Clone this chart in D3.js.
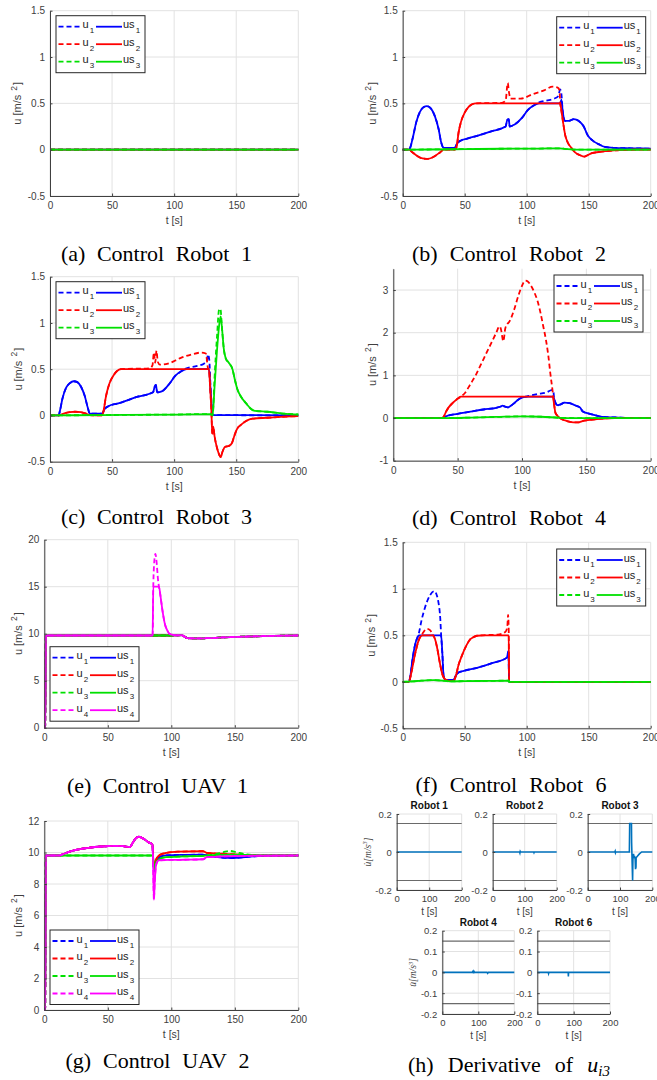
<!DOCTYPE html>
<html>
<head>
<meta charset="utf-8">
<script src="https://cdn.jsdelivr.net/npm/d3@7"></script>
<style>
  body { margin: 0; background: #fff; }
  svg { display: block; }
</style>
</head>
<body>
<svg id="fig" width="657" height="1080"></svg>
<script>
// ---- data (t [s], value) ----
const tTicks = [0, 50, 100, 150, 200];
const yTicksRobot = [-0.5, 0, 0.5, 1, 1.5];
const yTicksR4 = [-1, 0, 1, 2, 3];
const yTicksUav1 = [0, 5, 10, 15, 20];
const yTicksUav2 = [0, 2, 4, 6, 8, 10, 12];

// Robot 1
const r1_u = [[0,0],[200,0]];

// Robot 2
const r2_us1 = [[0,0],[5,0],[6,0.02],[8,0.12],[11,0.3],[14,0.41],[17,0.46],[19.5,0.47],[23,0.44],[26,0.36],[29,0.22],[31,0.08],[33,0.02],[42,0.02],[44,0.07],[47,0.1],[52,0.12],[60,0.15],[72,0.2],[83,0.25],[84.3,0.32],[85.5,0.33],[86.3,0.25],[90,0.27],[96,0.34],[101,0.43],[106,0.48],[110,0.5],[127,0.5],[128,0.54],[129,0.42],[131,0.31],[134,0.31],[138,0.33],[142,0.31],[146,0.25],[149,0.16],[153,0.1],[158,0.06],[163,0.03],[170,0.02],[185,0.015],[200,0.01]];
const r2_u1 = [[0,0],[5,0],[6,0.02],[8,0.12],[11,0.3],[14,0.41],[17,0.46],[19.5,0.47],[23,0.44],[26,0.36],[29,0.22],[31,0.08],[33,0.02],[42,0.02],[44,0.07],[47,0.1],[52,0.12],[60,0.15],[72,0.2],[83,0.25],[84.3,0.32],[85.5,0.33],[86.3,0.25],[90,0.27],[96,0.34],[101,0.43],[106,0.48],[110,0.51],[116,0.53],[122,0.55],[125.5,0.58],[127,0.65],[128,0.6],[129,0.42],[131,0.31],[134,0.31],[138,0.33],[142,0.31],[146,0.25],[149,0.16],[153,0.1],[158,0.06],[163,0.03],[170,0.02],[185,0.015],[200,0.01]];
const r2_us2 = [[0,0],[5,0],[8,-0.03],[12,-0.07],[16,-0.095],[19.5,-0.1],[23,-0.09],[27,-0.06],[30,-0.03],[33,0],[42,0],[43.5,0.03],[45,0.18],[47,0.3],[50,0.4],[53,0.46],[56,0.49],[59,0.5],[127,0.5],[128,0.42],[129.5,0.28],[131,0.16],[133,0.08],[136,0.02],[139,-0.03],[143,-0.06],[146.5,-0.075],[149,-0.06],[152,-0.04],[158,-0.025],[165,-0.015],[175,-0.005],[190,0],[200,0]];
const r2_u2 = [[0,0],[5,0],[8,-0.03],[12,-0.07],[16,-0.095],[19.5,-0.1],[23,-0.09],[27,-0.06],[30,-0.03],[33,0],[42,0],[43.5,0.03],[45,0.18],[47,0.3],[50,0.4],[53,0.46],[56,0.49],[59,0.5],[80,0.505],[83,0.53],[84.7,0.72],[85.7,0.62],[87,0.55],[95,0.55],[105,0.6],[114,0.64],[121,0.68],[125,0.67],[126.5,0.64],[127,0.5],[128,0.42],[129.5,0.28],[131,0.16],[133,0.08],[136,0.02],[139,-0.03],[143,-0.06],[146.5,-0.075],[149,-0.06],[152,-0.04],[158,-0.025],[165,-0.015],[175,-0.005],[190,0],[200,0]];
const r2_us3 = [[0,0],[20,0.002],[50,0.006],[80,0.01],[110,0.012],[127,0.015],[133,0.005],[140,0],[200,0]];

// Robot 3
const r3_us1 = [[0,0],[7,0],[8,0.05],[10,0.18],[13,0.3],[16,0.35],[19,0.37],[22,0.36],[25,0.31],[28,0.21],[30.5,0.08],[32,0.02],[42,0.02],[44,0.07],[47,0.1],[55,0.13],[70,0.2],[83,0.25],[84.3,0.31],[85.3,0.33],[86.3,0.25],[90,0.26],[96,0.34],[101,0.43],[106,0.48],[110,0.5],[128,0.5],[129.5,0.25],[131,0.005],[200,0]];
const r3_u1 = [[0,0],[7,0],[8,0.05],[10,0.18],[13,0.3],[16,0.35],[19,0.37],[22,0.36],[25,0.31],[28,0.21],[30.5,0.08],[32,0.02],[42,0.02],[44,0.07],[47,0.1],[55,0.13],[70,0.2],[83,0.25],[84.3,0.31],[85.3,0.33],[86.3,0.25],[90,0.26],[96,0.34],[101,0.43],[106,0.48],[110,0.51],[117,0.53],[124,0.56],[126.5,0.6],[127.3,0.66],[128.3,0.6],[129.5,0.25],[131,0.005],[200,0]];
const r3_us2 = [[0,0],[7,0],[11,0.02],[16,0.035],[20,0.04],[25,0.035],[29,0.02],[32,0.005],[42,0],[43,0.04],[45,0.2],[48,0.35],[51,0.43],[54,0.48],[57,0.5],[128,0.5],[129,0.3],[130,0.05],[130.7,-0.2],[131.5,-0.12],[132.5,-0.22],[134.5,-0.35],[136.5,-0.43],[137.5,-0.45],[139,-0.39],[141,-0.34],[144,-0.33],[146.5,-0.3],[148.5,-0.22],[150.5,-0.15],[154,-0.1],[158,-0.06],[163,-0.035],[175,-0.025],[190,-0.012],[200,-0.008]];
const r3_u2 = [[0,0],[7,0],[11,0.02],[16,0.035],[20,0.04],[25,0.035],[29,0.02],[32,0.005],[42,0],[43,0.04],[45,0.2],[48,0.35],[51,0.43],[54,0.48],[57,0.5],[80,0.51],[82.5,0.54],[83.7,0.68],[84.7,0.57],[85.8,0.7],[86.8,0.58],[88.5,0.55],[95,0.56],[105,0.62],[114,0.66],[122,0.68],[125.5,0.67],[127.5,0.5],[128,0.5],[129,0.3],[130,0.05],[130.7,-0.2],[131.5,-0.12],[132.5,-0.22],[134.5,-0.35],[136.5,-0.43],[137.5,-0.45],[139,-0.39],[141,-0.34],[144,-0.33],[146.5,-0.3],[148.5,-0.22],[150.5,-0.15],[154,-0.1],[158,-0.06],[163,-0.035],[175,-0.025],[190,-0.012],[200,-0.008]];
const r3_us3 = [[0,0],[40,0.004],[100,0.01],[129.5,0.015],[131,0],[132.5,0.3],[134.5,0.7],[136.5,1.0],[137.5,1.07],[138.5,0.95],[140,0.72],[141.5,0.62],[144,0.57],[147,0.5],[149,0.38],[151,0.28],[154,0.2],[158,0.13],[162,0.07],[165,0.05],[175,0.04],[188,0.02],[200,0.01]];
const r3_u3 = [[0,0],[40,0.004],[100,0.01],[129.5,0.015],[131,0],[132.5,0.4],[134.5,0.85],[136.3,1.15],[137.3,1.15],[138.5,0.95],[140,0.72],[141.5,0.62],[144,0.57],[147,0.5],[149,0.38],[151,0.28],[154,0.2],[158,0.13],[162,0.07],[165,0.05],[175,0.04],[188,0.02],[200,0.01]];

// Robot 4
const r4_us1 = [[0,0],[38,0],[40,0.03],[50,0.1],[60,0.15],[70,0.2],[80,0.24],[83.5,0.27],[85,0.29],[86.5,0.27],[89,0.25],[91,0.28],[94,0.35],[97,0.43],[100,0.48],[104,0.5],[124,0.5],[125,0.45],[126.5,0.33],[128,0.3],[130,0.32],[133,0.36],[137,0.35],[141,0.3],[145,0.25],[147,0.16],[150,0.12],[155,0.08],[160,0.04],[166,0.02],[175,0.01],[190,0],[200,0]];
const r4_u1 = [[0,0],[38,0],[40,0.03],[50,0.1],[60,0.15],[70,0.2],[80,0.24],[83.5,0.27],[85,0.29],[86.5,0.27],[89,0.25],[91,0.28],[94,0.35],[97,0.43],[100,0.48],[104,0.51],[112,0.56],[119,0.6],[123.5,0.66],[124.5,0.6],[125,0.45],[126.5,0.33],[128,0.3],[130,0.32],[133,0.36],[137,0.35],[141,0.3],[145,0.25],[147,0.16],[150,0.12],[155,0.08],[160,0.04],[166,0.02],[175,0.01],[190,0],[200,0]];
const r4_us2 = [[0,0],[38,0],[39.5,0.05],[41,0.15],[43,0.25],[46,0.35],[49,0.43],[52.5,0.5],[124,0.5],[125,0.3],[126,0.12],[128,0.04],[131,-0.03],[135,-0.07],[140,-0.1],[144,-0.1],[147,-0.07],[151,-0.05],[160,-0.02],[172,0],[200,0]];
const r4_u2 = [[0,0],[38,0],[39.5,0.05],[41,0.15],[43,0.25],[46,0.35],[49,0.43],[52.5,0.5],[56,0.6],[60,0.8],[64,1.0],[68,1.25],[72,1.5],[76,1.75],[80,2.0],[82.5,2.15],[83.5,2.1],[85.5,1.8],[87,2.1],[88.5,2.2],[90,2.25],[94,2.55],[97,2.85],[100,3.1],[102.5,3.22],[104.5,3.2],[107,3.1],[109.5,2.95],[112,2.75],[114.5,2.45],[116.5,2.15],[118.5,1.85],[120.5,1.45],[122,1.05],[123.5,0.7],[124.5,0.45],[125.5,0.2],[126,0.12],[128,0.04],[131,-0.03],[135,-0.07],[140,-0.1],[144,-0.1],[147,-0.07],[151,-0.05],[160,-0.02],[172,0],[200,0]];
const r4_us3 = [[0,0],[40,0],[60,0.01],[80,0.025],[100,0.04],[115,0.03],[130,0.005],[140,0],[200,0]];

// UAV 1
const uav1_base = [[0,0],[0.7,0],[1.2,9.81],[99,9.81],[104,9.83],[108,9.84],[110,9.72],[113,9.52],[120,9.5],[128,9.52],[140,9.6],[160,9.7],[180,9.77],[200,9.81]];
const uav1_us4 = [[0,0],[0.7,0],[1.2,9.81],[85.3,9.81],[85.8,15],[90.3,15],[91.5,14],[93,12.5],[95,11],[97,10.3],[99,9.95],[104,9.83],[108,9.84],[110,9.72],[113,9.52],[120,9.5],[128,9.52],[140,9.6],[160,9.7],[180,9.77],[200,9.81]];
const uav1_u4 = [[0,0],[0.7,0],[1.2,9.81],[85.3,9.81],[85.8,15],[86.8,18],[87.5,18.5],[88.5,17.5],[89.5,15.8],[90.3,15],[91.5,14],[93,12.5],[95,11],[97,10.3],[99,9.95],[104,9.83],[108,9.84],[110,9.72],[113,9.52],[120,9.5],[128,9.52],[140,9.6],[160,9.7],[180,9.77],[200,9.81]];

// UAV 2
const uav2_us4 = [[0,0],[0.7,0],[1.2,9.81],[12,9.81],[15,9.9],[20,10.05],[25,10.17],[35,10.3],[45,10.38],[55,10.42],[62,10.4],[67.5,10.35],[69.5,10.6],[72,10.9],[74.5,11.0],[78,10.88],[82,10.65],[85.2,10.5],[85.7,9.2],[86.3,7.0],[86.9,8.0],[88,9.2],[90,9.5],[100,9.53],[110,9.54],[125,9.57],[128,9.7],[140,9.75],[160,9.79],[200,9.81]];
const uav2_us3 = [[0,0],[0.7,0],[1.2,9.81],[85.5,9.81],[86.5,8.95],[88,9.35],[91,9.6],[96,9.7],[110,9.75],[125,9.79],[135,9.84],[150,9.86],[165,9.83],[200,9.81]];
const uav2_u3 = [[0,0],[0.7,0],[1.2,9.81],[85.5,9.81],[86.5,8.95],[88,9.35],[91,9.6],[96,9.7],[110,9.75],[125,9.79],[135,9.9],[141,10.02],[146,10.1],[151,10.02],[158,9.9],[168,9.82],[200,9.81]];
const uav2_us2 = [[0,0],[0.7,0],[1.2,9.81],[12,9.81],[15,9.9],[20,10.05],[25,10.17],[35,10.3],[45,10.38],[55,10.42],[62,10.4],[67.5,10.35],[69.5,10.6],[72,10.9],[74.5,11.0],[78,10.88],[82,10.65],[85.2,10.5],[85.7,9.6],[86.5,9.15],[88,9.55],[91,9.85],[96,9.97],[105,10.05],[125,10.08],[128,9.97],[140,9.92],[155,9.86],[170,9.82],[200,9.81]];
const uav2_us1 = [[0,0],[0.7,0],[1.2,9.81],[12,9.81],[15,9.9],[20,10.05],[25,10.17],[35,10.3],[45,10.38],[55,10.42],[62,10.4],[67.5,10.35],[69.5,10.6],[72,10.9],[74.5,11.0],[78,10.88],[82,10.65],[85.2,10.5],[85.7,9.5],[86.5,8.8],[88,9.45],[91,9.72],[96,9.82],[110,9.85],[125,9.86],[130,9.78],[140,9.68],[148,9.65],[160,9.72],[175,9.8],[200,9.81]];

// Robot 6
const r6_us1 = [[0,0],[5,0],[6,0.05],[8,0.25],[10,0.4],[12,0.48],[13,0.5],[31,0.5],[32,0.3],[33,0.06],[34.5,0.02],[41,0.02],[43,0.07],[45,0.1],[50,0.12],[60,0.15],[72,0.2],[84,0.26],[85.3,0.33],[85.8,0],[200,0]];
const r6_u1 = [[0,0],[5,0],[6,0.05],[8,0.25],[10,0.4],[12,0.48],[13,0.52],[15,0.65],[18,0.8],[22,0.93],[25.5,0.975],[27.5,0.93],[29,0.84],[30.3,0.68],[31,0.5],[32,0.3],[33,0.06],[34.5,0.02],[41,0.02],[43,0.07],[45,0.1],[50,0.12],[60,0.15],[72,0.2],[84,0.26],[85.3,0.33],[85.8,0],[200,0]];
const r6_us2 = [[0,0],[5,0],[7,0.1],[10,0.3],[13,0.45],[16,0.5],[24.5,0.5],[26.5,0.44],[28,0.35],[30,0.2],[32,0.08],[34,0.03],[37,0.01],[41,0.01],[43,0.07],[45,0.18],[48,0.29],[51,0.38],[54,0.45],[57,0.48],[60,0.495],[65,0.5],[85.5,0.5],[85.8,0],[200,0]];
const r6_u2 = [[0,0],[5,0],[7,0.1],[10,0.3],[13,0.45],[16,0.52],[19.5,0.57],[22,0.555],[24.5,0.5],[26.5,0.44],[28,0.35],[30,0.2],[32,0.08],[34,0.03],[37,0.01],[41,0.01],[43,0.07],[45,0.18],[48,0.29],[51,0.38],[54,0.45],[57,0.48],[60,0.495],[65,0.5],[78,0.51],[83,0.54],[84.4,0.6],[85,0.72],[85.5,0.55],[85.8,0],[200,0]];
const r6_us3 = [[0,0],[8,0.005],[15,0.012],[25,0.018],[32,0.012],[38,0.005],[50,0.007],[70,0.01],[85.5,0.012],[85.8,0],[200,0]];

// Derivative of u_i3
const hTicksTop = [-0.2, 0, 0.2];
const hTicksBottom = [-0.2, -0.1, 0, 0.1, 0.2];
const hLimits = [-0.15, 0.15];
const hXTicks = [0, 100, 200];
const h_r1 = [[0,0],[200,0]];
const h_r2 = [[0,0],[84,0],[85,-0.005],[86,0.003],[87,0],[128,0],[129,-0.004],[130,0],[200,0]];
const h_r3 = [[0,0],[84,0],[85,0.004],[86,-0.004],[87,0],[129,0],[130,0.15],[135.5,0.15],[136,0.05],[139,-0.15],[140,-0.04],[142,-0.01],[143,-0.03],[145,-0.02],[147,-0.04],[148,-0.09],[149.5,-0.08],[150,-0.03],[155,-0.02],[160,-0.01],[167,0],[200,0]];
const h_r4 = [[0,0],[84,0],[85,0.008],[87,-0.005],[88,0.005],[90,0],[124,0],[126,-0.005],[128,0],[200,0]];
const h_r6 = [[0,0],[30,0],[31,-0.006],[32,0],[85,0],[85.5,-0.02],[86,0],[200,0]];

// ---- drawing ----
const svg = d3.select("#fig");
const colors = ["#0000ff", "#ff0000", "#00e000", "#ff00ff"];
const axisCol = "#404040";
const gridCol = "#e2e2e2";
const sans = "Liberation Sans, Arial, sans-serif";
const serif = "Liberation Serif, Times New Roman, serif";

function frame(g, x, y, xt, yt) {
  const [x0, x1] = x.range();
  const [y1, y0] = y.range();
  g.append("g").selectAll("line").data(yt).join("line")
    .attr("x1", x0).attr("x2", x1).attr("y1", d => y(d)).attr("y2", d => y(d))
    .attr("stroke", gridCol).attr("stroke-width", 1);
  g.append("g").selectAll("line").data(xt).join("line")
    .attr("x1", d => x(d)).attr("x2", d => x(d)).attr("y1", y0).attr("y2", y1)
    .attr("stroke", gridCol).attr("stroke-width", 1);
}

function axes(g, x, y, xt, yt, fs) {
  const [y1] = y.range();
  const [x0] = x.range();
  const ax = g.append("g").attr("transform", `translate(${x0},0)`)
    .call(d3.axisLeft(y).tickValues(yt).tickFormat(d => String(d)).tickSize(-2.5).tickSizeOuter(0).tickPadding(5));
  const bx = g.append("g").attr("transform", `translate(0,${y1})`)
    .call(d3.axisBottom(x).tickValues(xt).tickFormat(d => String(d)).tickSize(-2.5).tickSizeOuter(0).tickPadding(fs + 1));
  [ax, bx].forEach(a => {
    a.attr("font-family", sans).attr("font-size", fs);
    a.selectAll("path, line").attr("stroke", axisCol).attr("stroke-width", 1);
    a.selectAll("text").attr("fill", axisCol);
  });
  bx.selectAll("text").attr("dy", "0.2em");
}

// caption: Times-like text whose word gaps are widened to the measured width
function caption(sel, width) {
  const natural = sel.node().getComputedTextLength();
  const gaps = (sel.text().match(/ /g) || []).length;
  if (gaps) sel.attr("word-spacing", Math.max(0, (width - natural) / gaps));
}

function drawPanel(p) {
  const [x0, y0, x1, y1] = p.box;
  const g = svg.append("g");
  const x = d3.scaleLinear().domain([0, 200]).range([x0, x1]);
  const y = d3.scaleLinear().domain(p.yDom).range([y1, y0]);
  frame(g, x, y, tTicks, p.yTicks);

  const line = d3.line().x(d => x(d[0])).y(d => y(d[1])).curve(d3.curveMonotoneX);
  p.u.forEach((u, i) => {
    g.append("path").datum(u).attr("d", line).attr("fill", "none")
      .attr("stroke", colors[i]).attr("stroke-width", 1.8).attr("stroke-dasharray", "5,3");
    g.append("path").datum(p.us[i]).attr("d", line).attr("fill", "none")
      .attr("stroke", colors[i]).attr("stroke-width", 1.8);
  });

  axes(g, x, y, tTicks, p.yTicks, 10);

  g.append("text").attr("x", (x0 + x1) / 2).attr("y", y1 + 28)
    .attr("text-anchor", "middle").attr("font-family", sans).attr("font-size", 10.5)
    .attr("fill", axisCol).text("t [s]");

  const yl = g.append("text")
    .attr("transform", `translate(${p.ylx},${(y0 + y1) / 2}) rotate(-90)`)
    .attr("text-anchor", "middle").attr("font-family", sans).attr("font-size", 11).attr("fill", axisCol);
  yl.append("tspan").text("u [m/s ");
  yl.append("tspan").attr("font-size", 8.5).attr("dy", -4.5).attr("dx", 1).text("2");
  yl.append("tspan").attr("dy", 4.5).attr("dx", 1).text("]");

  // legend
  const n = p.u.length;
  const [lx, ly] = p.leg;
  const lg = g.append("g").attr("font-family", sans).attr("fill", "#222");
  lg.append("rect").attr("x", lx).attr("y", ly).attr("width", 89).attr("height", 22 + (n - 1) * 17.5)
    .attr("fill", "#fff").attr("stroke", "#262626").attr("stroke-width", 1);
  d3.range(n).forEach(i => {
    const ry = ly + 11 + i * 17.5;
    lg.append("line").attr("x1", lx + 2.5).attr("x2", lx + 25.5).attr("y1", ry).attr("y2", ry)
      .attr("stroke", colors[i]).attr("stroke-width", 1.8).attr("stroke-dasharray", "5,3");
    lg.append("line").attr("x1", lx + 40).attr("x2", lx + 66).attr("y1", ry).attr("y2", ry)
      .attr("stroke", colors[i]).attr("stroke-width", 1.8);
    const t1 = lg.append("text").attr("x", lx + 26.5).attr("y", ry + 1.5).attr("font-size", 11);
    t1.append("tspan").text("u");
    t1.append("tspan").attr("font-size", 8).attr("dy", 5).attr("dx", 1).text(i + 1);
    const t2 = lg.append("text").attr("x", lx + 67).attr("y", ry + 1.5).attr("font-size", 11);
    t2.append("tspan").text("us");
    t2.append("tspan").attr("font-size", 8).attr("dy", 5).attr("dx", 1).text(i + 1);
  });

  const [ct, cx, cy, cw] = p.cap;
  const cap = g.append("text").attr("x", cx).attr("y", cy).attr("text-anchor", "middle")
    .attr("font-family", serif).attr("font-size", 22).attr("fill", "#000").text(ct);
  caption(cap, cw);
}

const panels = [
  { box: [50, 10.7, 298.3, 196], yDom: [-0.5, 1.5], yTicks: yTicksRobot,
    u: [r1_u, r1_u, r1_u], us: [r1_u, r1_u, r1_u], leg: [56, 15.7], ylx: 21,
    cap: ["(a) Control Robot 1", 156.5, 261, 191] },
  { box: [402.7, 10.7, 650.7, 196], yDom: [-0.5, 1.5], yTicks: yTicksRobot,
    u: [r2_u1, r2_u2, r2_us3], us: [r2_us1, r2_us2, r2_us3], leg: [556.7, 16.7], ylx: 375.5,
    cap: ["(b) Control Robot 2", 509, 261, 194] },
  { box: [50, 276.7, 298.3, 461.7], yDom: [-0.5, 1.5], yTicks: yTicksRobot,
    u: [r3_u1, r3_u2, r3_u3], us: [r3_us1, r3_us2, r3_us3], leg: [56, 281.7], ylx: 21.5,
    cap: ["(c) Control Robot 3", 156.5, 523.5, 191] },
  { box: [393.3, 268.7, 650.7, 460.7], yDom: [-1, 3.5], yTicks: yTicksR4,
    u: [r4_u1, r4_u2, r4_us3], us: [r4_us1, r4_us2, r4_us3], leg: [554, 275], ylx: 375.5,
    cap: ["(d) Control Robot 4", 509, 525, 194] },
  { box: [44.3, 539.7, 298.3, 727.7], yDom: [0, 20], yTicks: yTicksUav1,
    u: [uav1_base, uav1_base, uav1_base, uav1_u4], us: [uav1_base, uav1_base, uav1_base, uav1_us4],
    leg: [50, 646.7], ylx: 21.5, cap: ["(e) Control UAV 1", 157.5, 793, 181] },
  { box: [402.7, 542.3, 650.7, 728.3], yDom: [-0.5, 1.5], yTicks: yTicksRobot,
    u: [r6_u1, r6_u2, r6_us3], us: [r6_us1, r6_us2, r6_us3], leg: [556.7, 549], ylx: 375,
    cap: ["(f) Control Robot 6", 511, 791.5, 191] },
  { box: [44.3, 821, 298.3, 1010], yDom: [0, 12], yTicks: yTicksUav2,
    u: [uav2_us1, uav2_us2, uav2_u3, uav2_us4], us: [uav2_us1, uav2_us2, uav2_us3, uav2_us4],
    leg: [50, 930], ylx: 21.5, cap: ["(g) Control UAV 2", 157.5, 1068, 184] }
];
panels.forEach(drawPanel);

// ---- (h) derivative subplots ----
const hPanels = [
  { title: "Robot 1", data: h_r1, box: [396.7, 814, 461.7, 890], yt: hTicksTop, ylab: true },
  { title: "Robot 2", data: h_r2, box: [492.7, 814, 556.7, 890], yt: hTicksTop },
  { title: "Robot 3", data: h_r3, box: [587.7, 814, 652.3, 890], yt: hTicksTop },
  { title: "Robot 4", data: h_r4, box: [442.3, 930.7, 514.3, 1014], yt: hTicksBottom, ylab: true },
  { title: "Robot 6", data: h_r6, box: [537.3, 930.7, 610, 1014], yt: hTicksBottom }
];

hPanels.forEach(p => {
  const [x0, y0, x1, y1] = p.box;
  const g = svg.append("g");
  const x = d3.scaleLinear().domain([0, 200]).range([x0, x1]);
  const y = d3.scaleLinear().domain([-0.2, 0.2]).range([y1, y0]);
  frame(g, x, y, hXTicks, p.yt);
  g.append("g").selectAll("line").data(hLimits).join("line")
    .attr("x1", x0).attr("x2", x1).attr("y1", d => y(d)).attr("y2", d => y(d))
    .attr("stroke", "#6a6a6a").attr("stroke-width", 1.2);
  const line = d3.line().x(d => x(d[0])).y(d => y(d[1]));
  g.append("path").datum(p.data).attr("d", line).attr("fill", "none")
    .attr("stroke", "#0072bd").attr("stroke-width", 1.6);
  axes(g, x, y, hXTicks, p.yt, 9.5);
  g.append("text").attr("x", (x0 + x1) / 2).attr("y", y0 - 5).attr("text-anchor", "middle")
    .attr("font-family", sans).attr("font-size", 10).attr("font-weight", "bold").attr("fill", "#111")
    .text(p.title);
  g.append("text").attr("x", (x0 + x1) / 2).attr("y", y1 + 25).attr("text-anchor", "middle")
    .attr("font-family", sans).attr("font-size", 10).attr("fill", axisCol).text("t [s]");
  if (p.ylab) {
    const yl = g.append("text")
      .attr("transform", `translate(${x0 - 26},${(y0 + y1) / 2}) rotate(-90)`)
      .attr("text-anchor", "middle").attr("font-family", serif).attr("font-style", "italic")
      .attr("font-size", 9.5).attr("fill", axisCol);
    yl.append("tspan").text("u\u0307[m/s");
    yl.append("tspan").attr("font-size", 7).attr("dy", -3.5).text("3");
    yl.append("tspan").attr("dy", 3.5).text("]");
  }
});

const hc = svg.append("text").attr("x", 509).attr("y", 1072).attr("text-anchor", "middle")
  .attr("font-family", serif).attr("font-size", 22).attr("fill", "#000");
hc.append("tspan").text("(h) Derivative of ");
hc.append("tspan").attr("font-style", "italic").text("u");
hc.append("tspan").attr("font-style", "italic").attr("font-size", 15).attr("dy", 4).text("i3");
caption(hc, 202);
</script>
</body>
</html>
